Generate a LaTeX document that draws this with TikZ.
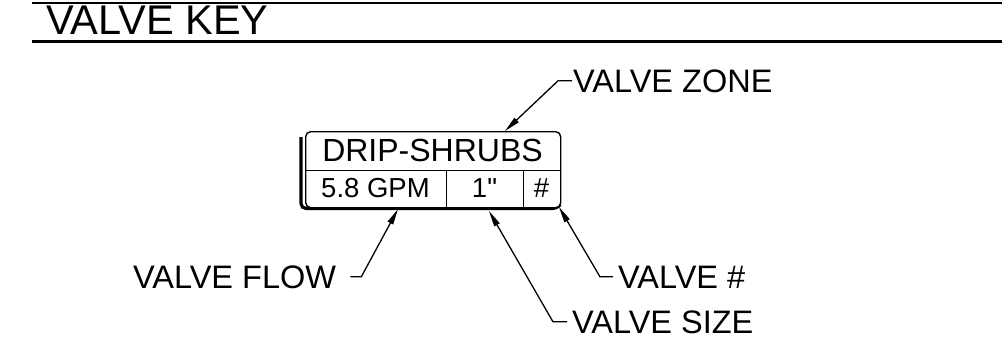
\documentclass[tikz,border=0pt]{standalone}
\usepackage{fontspec}
\setmainfont{Liberation Sans}[Ligatures=TeXOff]
\usetikzlibrary{arrows.meta}
\begin{document}
\begin{tikzpicture}[x=1pt,y=-1pt,
  lbl/.style={font=\fontsize{32.5}{32.5}\selectfont, anchor=base west, inner sep=0pt},
  cell/.style={anchor=base, inner sep=0pt},
  leader/.style={line width=1.3pt, -{Triangle[length=16pt,width=6pt]}},
  ]
\useasboundingbox (0,0) rectangle (1002,346);
% title
\draw[line width=2pt] (32,2.5) -- (1002,2.5);
\draw[line width=3pt] (32,41) -- (1002,41);
\node[anchor=base west, inner sep=0pt, font=\fontsize{41.5}{41.5}\selectfont] (title) at (46,34) {VALVE KEY};
% key box
\draw[line width=3.2pt, rounded corners=5pt] (301,137) -- (301,208.5) -- (557,208.5) -- (560,205);
\node[draw, line width=1.4pt, rounded corners=5pt, minimum width=255pt, minimum height=76pt,
      inner sep=0pt, anchor=north west, fill=white] (box) at (305,131) {};
\draw[line width=1pt] (305,170) -- (560,170);
\draw[line width=1pt] (446,170) -- (446,207);
\draw[line width=1pt] (523,170) -- (523,207);
\node[cell, font=\fontsize{32}{32}\selectfont] (zone) at (432.5,161) {DRIP-SHRUBS};
\node[cell, font=\fontsize{27.5}{27.5}\selectfont] (flow) at (375.5,197) {5.8 GPM};
\node[cell, font=\fontsize{27.5}{27.5}\selectfont] (size) at (484.5,197) {1"};
\node[cell, font=\fontsize{27.5}{27.5}\selectfont] (num) at (541.5,197) {\#};
% labels
\node[lbl] (zoneL) at (573,92) {VALVE ZONE};
\node[lbl] (flowL) at (133,288) {VALVE FLOW};
\node[lbl] (numL) at (618,288) {VALVE \#};
\node[lbl] (sizeL) at (572,333) {VALVE SIZE};
% arrow targets
\coordinate (zoneT) at (505,131);
\coordinate (flowT) at (398,209);
\coordinate (numT) at (559,207);
\coordinate (sizeT) at (489,211);
% leaders
\draw[leader] ([xshift=-1pt]zoneL.west) -- ++(-14,0) -- (zoneT);
\draw[leader] ([xshift=14pt]flowL.east) -- ++(11,0) -- (flowT);
\draw[leader] ([xshift=-5pt]numL.west) -- ++(-13,0) -- (numT);
\draw[leader] ([xshift=-5pt]sizeL.west) -- ++(-14,0) -- (sizeT);
\end{tikzpicture}
\end{document}
